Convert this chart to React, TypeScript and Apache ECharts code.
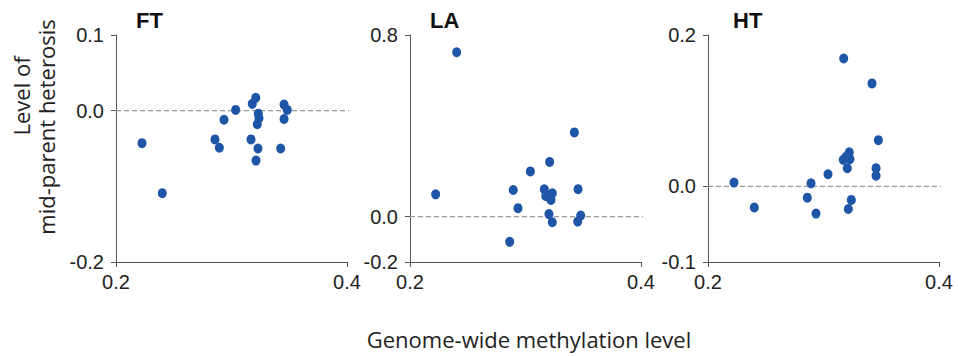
import React, { useEffect, useRef } from 'react';
import * as echarts from 'echarts';

// Genome-wide methylation level (x) and mid-parent heterosis (y) per trait
const panelNames = ['FT', 'LA', 'HT'];

const ftMethylation = [0.2225, 0.2401, 0.2857, 0.2895, 0.2935, 0.3036, 0.3180, 0.3210, 0.3232, 0.3238, 0.3223, 0.3169, 0.3229, 0.3212, 0.3455, 0.3483, 0.3455, 0.3426];
const ftHeterosis = [-0.043, -0.109, -0.038, -0.049, -0.012, 0.001, 0.009, 0.017, -0.004, -0.010, -0.018, -0.038, -0.050, -0.066, 0.008, 0.001, -0.011, -0.050];

const laMethylation = [0.2222, 0.2404, 0.2863, 0.2894, 0.2935, 0.3042, 0.3209, 0.3163, 0.3175, 0.3232, 0.3221, 0.3198, 0.3203, 0.3232, 0.3423, 0.3455, 0.3478, 0.3452];
const laHeterosis = [0.098, 0.724, -0.111, 0.117, 0.037, 0.199, 0.241, 0.120, 0.091, 0.103, 0.073, 0.088, 0.011, -0.025, 0.371, 0.121, 0.005, -0.022];

const htMethylation = [0.2225, 0.2401, 0.2860, 0.2892, 0.2935, 0.3039, 0.3175, 0.3420, 0.3475, 0.3455, 0.3455, 0.3241, 0.3215, 0.3223, 0.3195, 0.3171, 0.3229, 0.3206];
const htHeterosis = [0.005, -0.028, -0.015, 0.004, -0.036, 0.016, 0.169, 0.136, 0.061, 0.024, 0.014, -0.018, -0.030, 0.045, 0.039, 0.035, 0.036, 0.024];

const xTicks = [0.2, 0.4];
const yRanges = [[-0.2, 0.1], [-0.2, 0.8], [-0.1, 0.2]];
const yTicks = [[-0.2, 0, 0.1], [-0.2, 0, 0.8], [-0.1, 0, 0.2]];

// zero-heterosis reference line, running slightly past the last x tick
const zeroLineX = [0.2, 0.409];
const zeroLineY = [0, 0];

const xTitle = 'Genome-wide methylation level';
const yTitleLines = ['Level of', 'mid-parent heterosis'];

const panelX = [ftMethylation, laMethylation, htMethylation];
const panelY = [ftHeterosis, laHeterosis, htHeterosis];

const gridLefts = [116, 410, 708];
const titleLefts = [136, 430, 733];

const axisColor = '#555';
const dotColor = '#1f55a6';
const numFont = 'Liberation Sans';
const textFont = 'Open Sans';

export default function App() {
  const ref = useRef<HTMLDivElement>(null);

  useEffect(() => {
    if (!ref.current) return;
    const chart = echarts.init(ref.current, undefined, { renderer: 'svg' });

    const grids = gridLefts.map((left) => ({ left, top: 35, width: 231, height: 227 }));

    const xAxes = panelNames.map((_, i) => ({
      type: 'value',
      gridIndex: i,
      min: xTicks[0],
      max: xTicks[xTicks.length - 1],
      interval: 0.2,
      splitLine: { show: false },
      axisLine: { show: true, onZero: false, lineStyle: { color: axisColor, width: 1 } },
      axisTick: { show: true, length: 5, customValues: xTicks, lineStyle: { color: axisColor } },
      axisLabel: {
        customValues: xTicks,
        margin: 10,
        fontSize: 20,
        color: '#222',
        fontFamily: numFont,
        formatter: (v: number) => v.toFixed(1),
      },
    }));

    const yAxes = panelNames.map((_, i) => ({
      type: 'value',
      gridIndex: i,
      min: yRanges[i][0],
      max: yRanges[i][1],
      splitLine: { show: false },
      axisLine: { show: true, onZero: false, lineStyle: { color: axisColor, width: 1 } },
      axisTick: { show: true, length: 5, customValues: yTicks[i], lineStyle: { color: axisColor } },
      axisLabel: {
        customValues: yTicks[i],
        margin: 12,
        fontSize: 20,
        color: '#222',
        fontFamily: numFont,
        formatter: (v: number) => v.toFixed(1),
      },
    }));

    const zeroLines = panelNames.map((_, i) => ({
      type: 'line',
      xAxisIndex: i,
      yAxisIndex: i,
      clip: false,
      silent: true,
      symbol: 'none',
      z: 1,
      lineStyle: { type: [5, 3], color: '#9a9a9a', width: 1.3 },
      data: zeroLineX.map((x, j) => [x, zeroLineY[j]]),
    }));

    const scatters = panelNames.map((_, i) => ({
      type: 'scatter',
      xAxisIndex: i,
      yAxisIndex: i,
      symbol: 'circle',
      symbolSize: [9, 10],
      z: 3,
      itemStyle: { color: dotColor, opacity: 1 },
      data: panelX[i].map((x, j) => [x, panelY[i][j]]),
    }));

    const titles = panelNames.map((name, i) => ({
      text: name,
      left: titleLefts[i],
      top: 9,
      padding: 0,
      textStyle: { fontSize: 22, fontWeight: 'bold', color: '#111', fontFamily: numFont },
    }));

    chart.setOption({
      animation: false,
      backgroundColor: '#fff',
      title: titles,
      grid: grids,
      xAxis: xAxes,
      yAxis: yAxes,
      series: [...zeroLines, ...scatters],
      graphic: [
        {
          type: 'text',
          x: 21,
          y: 96,
          rotation: Math.PI / 2,
          style: {
            text: yTitleLines[0],
            fontSize: 22,
            fontFamily: textFont,
            fill: '#222',
            textAlign: 'center',
            textVerticalAlign: 'middle',
          },
        },
        {
          type: 'text',
          x: 46,
          y: 127,
          rotation: Math.PI / 2,
          style: {
            text: yTitleLines[1],
            fontSize: 22,
            fontFamily: textFont,
            fill: '#222',
            textAlign: 'center',
            textVerticalAlign: 'middle',
          },
        },
        {
          type: 'text',
          x: 529,
          y: 339,
          style: {
            text: xTitle,
            fontSize: 22,
            fontFamily: textFont,
            fill: '#222',
            textAlign: 'center',
            textVerticalAlign: 'middle',
          },
        },
      ],
    });

    return () => chart.dispose();
  }, []);

  return (
    <div
      ref={ref}
      style={{ position: 'absolute', left: 0, top: 0, width: 958, height: 356 }}
    />
  );
}
